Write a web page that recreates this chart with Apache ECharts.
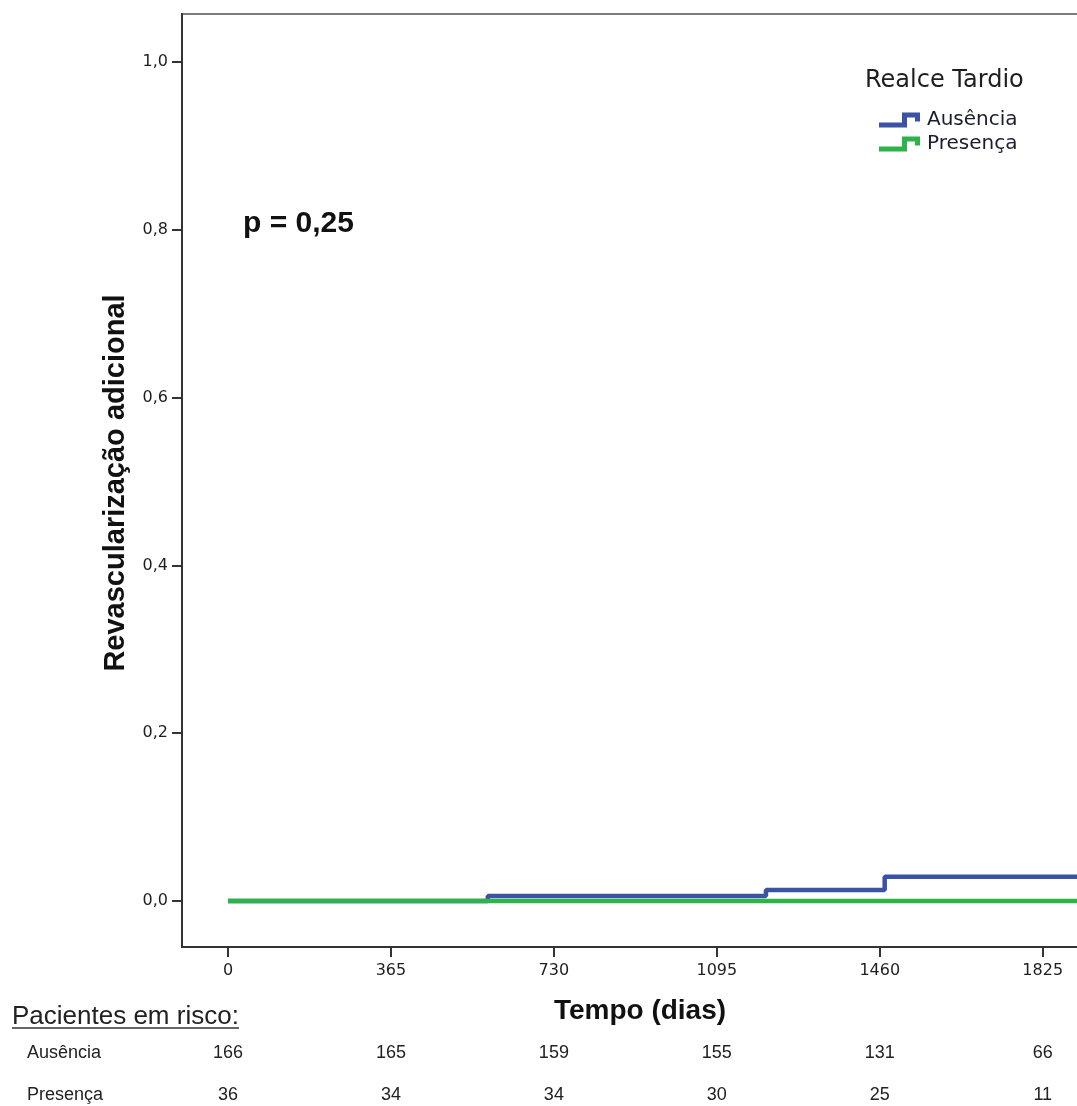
<!DOCTYPE html>
<html>
<head>
<meta charset="utf-8">
<title>Revascularização adicional</title>
<script src="https://cdn.jsdelivr.net/npm/echarts@6/dist/echarts.min.js"></script>
<style>
  html, body { margin: 0; padding: 0; background: #ffffff; overflow: hidden; }
  /* the plot runs past the right edge of the page */
  #chart { width: 1110px; height: 1106px; }
</style>
</head>
<body>
<div id="chart"></div>
<script>
// Kaplan–Meier cumulative incidence of additional revascularization
const groupNames = ['Ausência', 'Presença'];
const ausenciaDays = [0, 582, 1205, 1471, 1960];
const ausenciaCum  = [0, 0.006, 0.013, 0.029, 0.029];
const presencaDays = [0, 1960];
const presencaCum  = [0, 0];

const xTicks = [0, 365, 730, 1095, 1460, 1825];
const yTicks = [0, 0.2, 0.4, 0.6, 0.8, 1.0];

// patients at risk at each x tick
const riskAusencia = [166, 165, 159, 155, 131, 66];
const riskPresenca = [36, 34, 34, 30, 25, 11];

const pValueText = 'p = 0,25';
const legendTitle = 'Realce Tardio';
const xTitle = 'Tempo (dias)';
const yTitle = 'Revascularização adicional';
const riskTitle = 'Pacientes em risco:';

const colors = ['#3a53a4', '#2db34a'];
const tickFont = 'DejaVu Sans';
const textColor = '#1e1e1e';

const chart = echarts.init(document.getElementById('chart'), null, { renderer: 'canvas' });

const pairs = (xs, ys) => xs.map((x, i) => [x, ys[i]]);
// step icon for the legend (filled outline of a thick step line)
const stepIcon = 'path://M0,10L23,10L23,0L41,0L41,9L36,9L36,5L28,5L28,15L0,15Z';

const option = {
  backgroundColor: '#ffffff',
  animation: false,
  grid: {
    left: 182, top: 14, width: 921, height: 933,
    show: true, borderColor: '#7a7a7a', borderWidth: 2, backgroundColor: 'transparent'
  },
  xAxis: {
    type: 'value', min: -103, max: 1960,
    axisLine: { show: true, onZero: false, lineStyle: { color: '#333', width: 2 } },
    axisTick: { show: true, length: 10, customValues: xTicks, lineStyle: { color: '#333', width: 2 } },
    axisLabel: {
      customValues: xTicks, margin: 16,
      fontFamily: tickFont, fontSize: 16, color: textColor,
      formatter: v => String(v)
    },
    splitLine: { show: false }
  },
  yAxis: {
    type: 'value', min: -0.0548, max: 1.0572,
    axisLine: { show: true, onZero: false, lineStyle: { color: '#333', width: 2 } },
    axisTick: { show: true, length: 10, customValues: yTicks, lineStyle: { color: '#333', width: 2 } },
    axisLabel: {
      customValues: yTicks, margin: 14,
      fontFamily: tickFont, fontSize: 16, color: textColor,
      formatter: v => v.toFixed(1).replace('.', ',')
    },
    splitLine: { show: false }
  },
  legend: {
    orient: 'vertical', left: 879, top: 110, padding: 0,
    itemWidth: 41, itemHeight: 15, itemGap: 4,
    icon: stepIcon,
    itemStyle: { borderWidth: 0 },
    textStyle: { fontFamily: tickFont, fontSize: 20, lineHeight: 20, color: '#1c1c30', padding: [0, 0, 0, 2] },
    data: groupNames
  },
  series: [
    {
      name: groupNames[0], type: 'line', step: 'end', symbol: 'none',
      color: colors[0],
      itemStyle: { color: colors[0] },
      lineStyle: { color: colors[0], width: 4.5 },
      data: pairs(ausenciaDays, ausenciaCum)
    },
    {
      name: groupNames[1], type: 'line', step: 'end', symbol: 'none',
      color: colors[1],
      itemStyle: { color: colors[1] },
      lineStyle: { color: colors[1], width: 4.5 },
      data: pairs(presencaDays, presencaCum)
    }
  ]
};
chart.setOption(option);

// annotations, axis titles and the at-risk table below the plot
const graphics = [
  {
    type: 'text', x: 865, y: 81,
    style: { text: legendTitle, font: '24px "DejaVu Sans"', fill: textColor, align: 'left', verticalAlign: 'middle' }
  },
  {
    type: 'text', x: 243, y: 224,
    style: { text: pValueText, font: 'bold 30px "Liberation Sans", Arial', fill: '#111', align: 'left', verticalAlign: 'middle' }
  },
  {
    type: 'text', x: 116, y: 483, rotation: Math.PI / 2,
    style: { text: yTitle, font: 'bold 29px "Liberation Sans", Arial', fill: '#111', align: 'center', verticalAlign: 'middle' }
  },
  {
    type: 'text', x: 640, y: 1011,
    style: { text: xTitle, font: 'bold 28px "Liberation Sans", Arial', fill: '#111', align: 'center', verticalAlign: 'middle' }
  },
  {
    type: 'text', x: 12, y: 1017,
    style: { text: riskTitle, font: '26px "Liberation Sans", Arial', fill: '#222', align: 'left', verticalAlign: 'middle' }
  },
  {
    type: 'line', shape: { x1: 12, y1: 1028, x2: 239, y2: 1028 },
    style: { stroke: '#333', lineWidth: 1.5 }
  },
  {
    type: 'text', x: 27, y: 1053,
    style: { text: groupNames[0], font: '18px "Liberation Sans", Arial', fill: '#222', align: 'left', verticalAlign: 'middle' }
  },
  {
    type: 'text', x: 27, y: 1095,
    style: { text: groupNames[1], font: '18px "Liberation Sans", Arial', fill: '#222', align: 'left', verticalAlign: 'middle' }
  }
];

xTicks.forEach((t, i) => {
  const px = chart.convertToPixel({ xAxisIndex: 0 }, t);
  graphics.push({
    type: 'text', x: px, y: 1053,
    style: { text: String(riskAusencia[i]), font: '18px "Liberation Sans", Arial', fill: '#222', align: 'center', verticalAlign: 'middle' }
  });
  graphics.push({
    type: 'text', x: px, y: 1095,
    style: { text: String(riskPresenca[i]), font: '18px "Liberation Sans", Arial', fill: '#222', align: 'center', verticalAlign: 'middle' }
  });
});

chart.setOption({ graphic: graphics });
</script>
</body>
</html>
